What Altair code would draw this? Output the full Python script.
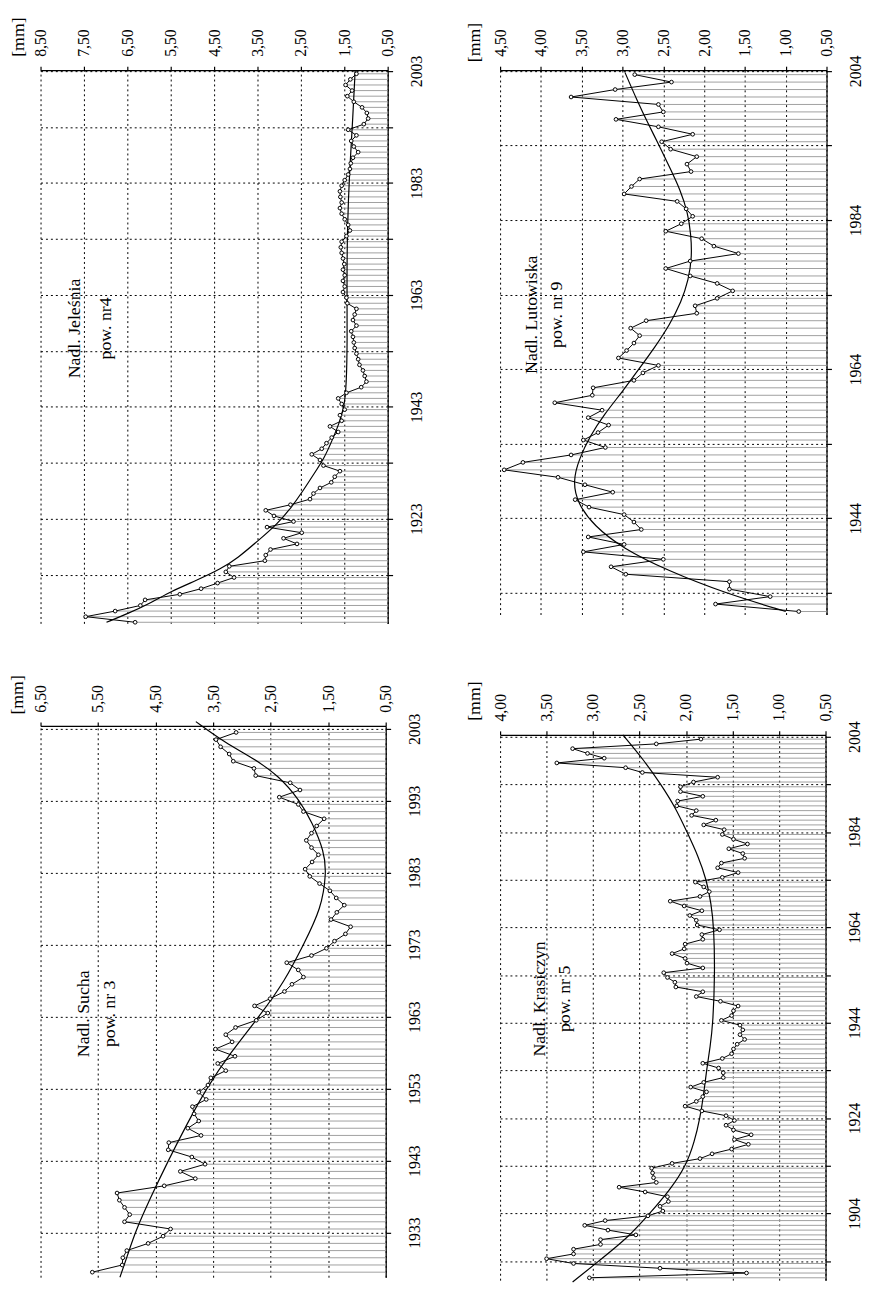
import altair as alt
import pandas as pd

FONT = "Liberation Serif"

# ---------------- Nadl. Jeleśnia, pow. nr4 ----------------
jel_start = 1904
jel_values = [6.32, 7.46, 6.78, 6.20, 6.09, 5.29, 4.80, 4.42, 4.04, 4.23,
              4.15, 3.33, 3.31, 3.20, 2.59, 2.90, 2.48, 3.28, 2.67, 3.12,
              3.31, 2.74, 2.29, 2.21, 2.06, 1.80, 1.72, 1.60, 1.98, 2.06,
              2.25, 2.02, 1.91, 1.79, 1.64, 1.83, 1.56, 1.60, 1.49, 1.56,
              1.64, 1.45, 1.11, 0.99, 1.03, 1.07, 1.15, 1.18, 1.22, 1.26,
              1.28, 1.30, 1.34, 1.22, 1.30, 1.26, 1.22, 1.43, 1.45, 1.53,
              1.49, 1.53, 1.49, 1.53, 1.50, 1.53, 1.56, 1.58, 1.56, 1.45,
              1.37, 1.41, 1.49, 1.56, 1.60, 1.56, 1.59, 1.60, 1.56, 1.49,
              1.41, 1.37, 1.35, 1.30, 1.18, 1.28, 1.34, 1.22, 1.41, 1.05,
              0.95, 0.98, 1.09, 1.28, 1.43, 1.32, 1.47, 1.36, 1.22]
jel_trend_years = [1904.5, 1906, 1908, 1910, 1912, 1914, 1916, 1919, 1922, 1925,
                   1928, 1931, 1934, 1937, 1940, 1943, 1947, 1955, 1965, 1975,
                   1985, 1995, 2003]
jel_trend_values = [6.98, 6.50, 5.95, 5.50, 4.90, 4.35, 3.95, 3.50, 3.05, 2.72,
                    2.45, 2.20, 1.95, 1.78, 1.62, 1.50, 1.45, 1.43, 1.44, 1.43,
                    1.38, 1.30, 1.25]

# ---------------- Nadl. Lutowiska, pow. nr 9 ----------------
lut_start = 1931
lut_values = [0.84, 1.86, 1.19, 1.69, 1.69, 2.96, 3.14, 2.50, 3.48, 2.98,
              3.42, 2.77, 2.86, 2.98, 3.41, 3.58, 3.12, 3.46, 3.79, 4.45,
              4.22, 3.63, 3.21, 3.48, 3.30, 3.17, 3.42, 3.25, 3.83, 3.37,
              3.36, 2.86, 2.75, 2.56, 3.05, 2.95, 2.86, 2.79, 2.90, 2.71,
              2.09, 2.11, 1.84, 1.65, 1.84, 2.17, 2.47, 2.17, 1.58, 1.88,
              2.03, 2.47, 2.28, 2.14, 2.22, 2.33, 2.98, 2.89, 2.79, 2.16,
              2.21, 2.09, 2.41, 2.52, 2.14, 2.56, 3.08, 2.50, 2.56, 3.63,
              3.09, 2.40, 2.85]
lut_trend_years = [1931.5, 1934, 1937, 1940, 1943, 1946, 1949, 1952, 1955, 1958,
                   1961, 1964, 1967, 1970, 1973, 1976, 1979, 1982, 1985, 1988,
                   1991, 1994, 1997, 2000, 2003.8]
lut_trend_values = [1.00, 1.75, 2.45, 3.00, 3.35, 3.55, 3.61, 3.53, 3.40, 3.22,
                    3.00, 2.80, 2.60, 2.42, 2.28, 2.19, 2.15, 2.16, 2.20, 2.29,
                    2.42, 2.55, 2.69, 2.82, 2.97]

# ---------------- Nadl. Sucha, pow. nr 3 ----------------
such_start = 1927
such_values = [5.60, 5.08, 5.07, 5.00, 4.63, 4.37, 4.24, 5.04, 4.95, 5.04,
               5.13, 5.17, 4.35, 3.81, 4.07, 3.64, 3.87, 4.28, 4.27, 3.71,
               3.94, 3.75, 3.83, 3.86, 3.62, 3.75, 3.59, 3.54, 3.28, 3.42,
               3.12, 3.46, 3.17, 3.28, 3.11, 2.75, 2.55, 2.78, 2.51, 2.26,
               2.13, 1.93, 2.02, 2.22, 1.79, 1.53, 1.39, 1.20, 1.11, 1.45,
               1.35, 1.22, 1.36, 1.47, 1.65, 1.82, 1.90, 1.78, 1.67, 1.79,
               1.88, 1.79, 1.70, 1.57, 1.93, 2.02, 2.35, 1.99, 2.16, 2.76,
               2.79, 3.15, 3.22, 3.37, 3.45, 3.10]
such_trend_years = [1926.8, 1930, 1933, 1938, 1943, 1948, 1953, 1958, 1963, 1968,
                    1973, 1978, 1983, 1986, 1990, 1993, 1996.5, 1999, 2001, 2004.0]
such_trend_values = [5.12, 4.98, 4.86, 4.58, 4.28, 3.96, 3.62, 3.20, 2.70, 2.25,
                     1.93, 1.62, 1.53, 1.57, 1.78, 1.99, 2.36, 2.82, 3.28, 3.80]

# ---------------- Nadl. Krasiczyn, pow. nr 5 ----------------
kras_start = 1890
kras_values = [3.04, 1.35, 2.28, 3.21, 3.50, 3.21, 3.21, 2.92, 2.92, 2.54,
               2.84, 3.09, 2.87, 2.41, 2.25, 2.28, 2.19, 2.20, 2.44, 2.72,
               2.32, 2.35, 2.36, 2.37, 2.15, 1.85, 1.72, 1.51, 1.33, 1.48,
               1.30, 1.49, 1.57, 1.48, 1.57, 1.83, 2.01, 1.89, 1.82, 1.78,
               1.95, 1.81, 1.60, 1.60, 1.65, 1.82, 1.61, 1.51, 1.49, 1.45,
               1.37, 1.42, 1.39, 1.42, 1.62, 1.51, 1.49, 1.44, 1.63, 1.89,
               1.82, 2.11, 2.12, 2.20, 2.24, 1.82, 1.99, 2.01, 2.15, 2.02,
               2.01, 1.82, 1.83, 1.64, 1.88, 1.89, 1.96, 1.83, 2.02, 2.17,
               1.85, 1.75, 1.81, 1.90, 1.61, 1.44, 1.66, 1.62, 1.37, 1.39,
               1.54, 1.34, 1.49, 1.61, 1.59, 1.81, 1.68, 1.94, 1.89, 2.10,
               2.09, 1.82, 2.06, 2.06, 1.92, 1.66, 2.47, 2.65, 3.39, 2.88,
               3.06, 3.22, 2.32, 1.84]
kras_trend_years = [1889.6, 1894, 1899, 1904, 1909, 1914, 1919, 1924, 1929, 1934,
                    1939, 1944, 1954, 1964, 1969, 1974, 1979, 1984, 1989, 1994,
                    1999, 2004.4]
kras_trend_values = [3.22, 2.94, 2.62, 2.39, 2.17, 2.00, 1.91, 1.85, 1.81, 1.78,
                     1.74, 1.71, 1.69, 1.70, 1.73, 1.78, 1.87, 1.99, 2.11, 2.27,
                     2.45, 2.68]


def panel(values, start, t_years, t_values, xdom, xticks, ydom, yticks,
          lab_ref, lab_step, w, h, names, name_pos, name_vals, mm_xy):
    pts = pd.DataFrame({"year": list(range(start, start + len(values))),
                        "value": values})
    pts["pos"] = pts["year"] + 0.5
    pts["base"] = xdom[0]
    tr = pd.DataFrame({"pos": t_years, "value": t_values})
    tx = pd.DataFrame({"label": names, "pos": [name_pos] * 2, "value": name_vals})

    x = alt.X("value:Q",
              scale=alt.Scale(domain=xdom, reverse=True, nice=False, zero=False),
              axis=alt.Axis(orient="top", values=xticks,
                            labelExpr="replace(format(datum.value, '.2f'), '.', ',')",
                            labelAngle=270, labelAlign="left", labelBaseline="middle",
                            labelPadding=10, tickSize=4, grid=True,
                            title="[mm]", titleAngle=270, titleX=mm_xy[0], titleY=mm_xy[1],
                            titleAlign="center", titleBaseline="middle",
                            titleFontSize=18, titleFontWeight="normal", titleFont=FONT))
    y = alt.Y("pos:Q",
              scale=alt.Scale(domain=ydom, nice=False, zero=False),
              axis=alt.Axis(orient="right", values=yticks,
                            labelExpr=f"(datum.value - {lab_ref}) % {lab_step} == 0 ? toString(datum.value) : ''",
                            labelAngle=270, labelAlign="center", labelBaseline="top",
                            labelPadding=16, tickSize=5, grid=True, title=None))

    rules = alt.Chart(pts).mark_rule(color="#a0a0a0", strokeWidth=1).encode(
        x=x, x2="base:Q", y=y)
    trend = alt.Chart(tr).mark_line(color="black", strokeWidth=1.2,
                                    interpolate="basis").encode(x=x, y=y, order="pos:Q")
    line = alt.Chart(pts).mark_line(color="black", strokeWidth=1).encode(
        x=x, y=y, order="pos:Q")
    dots = alt.Chart(pts).mark_circle(fill="white", stroke="black", strokeWidth=1,
                                      size=14, opacity=1).encode(x=x, y=y)
    texts = alt.Chart(tx).mark_text(font=FONT, fontSize=18, angle=270,
                                    align="center", baseline="middle",
                                    color="black").encode(x=x, y=y, text="label:N")
    return alt.layer(rules, trend, line, dots, texts).properties(width=w, height=h)


tl = panel(jel_values, jel_start, jel_trend_years, jel_trend_values,
           [0.5, 8.5], [0.5 + i for i in range(9)],
           [1904.3, 2003.15], list(range(1913, 2004, 10)), 2003, 20,
           352, 561, ["Nadl. Jeleśnia", "pow. nr4"], 1957, [7.71, 6.98], (-22.5, -34))
tr_ = panel(lut_values, lut_start, lut_trend_years, lut_trend_values,
            [0.5, 4.5], [0.5 + 0.5 * i for i in range(9)],
            [1931.1, 2004.1], list(range(1934, 2005, 10)), 2004, 20,
            331, 552, ["Nadl. Lutowiska", "pow. nr 9"], 1971.3, [4.11, 3.80], (-25.5, -28.5))
bl = panel(such_values, such_start, such_trend_years, such_trend_values,
           [0.5, 6.5], [0.5 + i for i in range(7)],
           [1926.8, 2003.4], list(range(1933, 2004, 10)), 2003, 10,
           350, 559, ["Nadl. Sucha", "pow. nr 3"], 1963.4, [5.74, 5.30], (-23.5, -32))
br = panel(kras_values, kras_start, kras_trend_years, kras_trend_values,
           [0.5, 4.0], [0.5 + 0.5 * i for i in range(8)],
           [1890.0, 2004.4], list(range(1894, 2005, 10)), 2004, 20,
           330, 553, ["Nadl. Krasiczyn", "pow. nr 5"], 1949, [3.57, 3.30], (-26, -34.7))

left = alt.vconcat(tl, bl, spacing=104, bounds="flush")
right = alt.vconcat(tr_, br, spacing=122, bounds="flush")
chart = alt.hconcat(left, right, spacing=42).properties(
    padding=0
).configure_view(stroke=None).configure_axis(
    labelFont=FONT, labelFontSize=16, labelColor="black",
    domainColor="black", domainWidth=1.3, tickColor="black", tickWidth=1.2,
    gridColor="black", gridDash=[2, 3], gridWidth=1, gridOpacity=1,
    titleColor="black")

chart.save("out.html", embed_options={"renderer": "svg", "actions": False})
